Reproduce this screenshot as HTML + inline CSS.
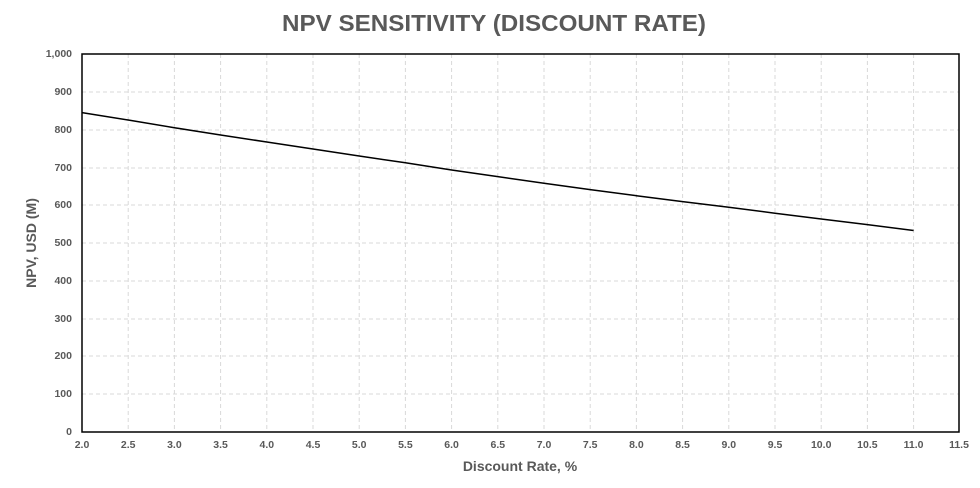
<!DOCTYPE html>
<html><head><meta charset="utf-8"><style>
body{margin:0;background:#fff;width:980px;height:483px;overflow:hidden}
text{font-family:"Liberation Sans",Arial,sans-serif;fill:#595959;font-weight:bold}
</style></head><body>
<svg width="980" height="483" xmlns="http://www.w3.org/2000/svg">
<text x="282" y="31" font-size="23" textLength="424" lengthAdjust="spacingAndGlyphs">NPV SENSITIVITY (DISCOUNT RATE)</text>
<g stroke="#d9d9d9" stroke-width="1" stroke-dasharray="4,3">
<line x1="82" x2="959" y1="92" y2="92"/><line x1="82" x2="959" y1="130" y2="130"/><line x1="82" x2="959" y1="168" y2="168"/><line x1="82" x2="959" y1="205" y2="205"/><line x1="82" x2="959" y1="243" y2="243"/><line x1="82" x2="959" y1="281" y2="281"/><line x1="82" x2="959" y1="319" y2="319"/><line x1="82" x2="959" y1="356" y2="356"/><line x1="82" x2="959" y1="394" y2="394"/>
<line y1="54" y2="432" x1="128.2" x2="128.2"/><line y1="54" y2="432" x1="174.4" x2="174.4"/><line y1="54" y2="432" x1="220.6" x2="220.6"/><line y1="54" y2="432" x1="266.8" x2="266.8"/><line y1="54" y2="432" x1="313" x2="313"/><line y1="54" y2="432" x1="359.2" x2="359.2"/><line y1="54" y2="432" x1="405.4" x2="405.4"/><line y1="54" y2="432" x1="451.6" x2="451.6"/><line y1="54" y2="432" x1="497.8" x2="497.8"/><line y1="54" y2="432" x1="544" x2="544"/><line y1="54" y2="432" x1="590.2" x2="590.2"/><line y1="54" y2="432" x1="636.4" x2="636.4"/><line y1="54" y2="432" x1="682.6" x2="682.6"/><line y1="54" y2="432" x1="728.8" x2="728.8"/><line y1="54" y2="432" x1="775" x2="775"/><line y1="54" y2="432" x1="821.2" x2="821.2"/><line y1="54" y2="432" x1="867.4" x2="867.4"/><line y1="54" y2="432" x1="913.6" x2="913.6"/>
</g>
<rect x="82" y="54" width="877" height="378" fill="none" stroke="#000" stroke-width="1.5"/>
<polyline fill="none" stroke="#000" stroke-width="1.5" points="82,112.6 128.2,120 174.4,127.7 220.6,135 266.8,142 313,149 359.2,156 405.4,162.8 451.6,170 497.8,176.6 544,183.3 590.2,189.6 636.4,195.7 682.6,201.6 728.8,207.2 775,213.2 821.2,219 867.4,224.6 913.6,230.5"/>
<g font-size="10.5" text-anchor="end">
<text x="72" y="57">1,000</text><text x="72" y="95">900</text><text x="72" y="133">800</text><text x="72" y="171">700</text><text x="72" y="208">600</text><text x="72" y="246">500</text><text x="72" y="284">400</text><text x="72" y="322">300</text><text x="72" y="359">200</text><text x="72" y="397">100</text><text x="72" y="435">0</text>
</g>
<g font-size="10.5" text-anchor="middle">
<text x="82" y="448">2.0</text><text x="128.2" y="448">2.5</text><text x="174.4" y="448">3.0</text><text x="220.6" y="448">3.5</text><text x="266.8" y="448">4.0</text><text x="313" y="448">4.5</text><text x="359.2" y="448">5.0</text><text x="405.4" y="448">5.5</text><text x="451.6" y="448">6.0</text><text x="497.8" y="448">6.5</text><text x="544" y="448">7.0</text><text x="590.2" y="448">7.5</text><text x="636.4" y="448">8.0</text><text x="682.6" y="448">8.5</text><text x="728.8" y="448">9.0</text><text x="775" y="448">9.5</text><text x="821.2" y="448">10.0</text><text x="867.4" y="448">10.5</text><text x="913.6" y="448">11.0</text><text x="959" y="448">11.5</text>
</g>
<text x="520" y="471" font-size="14" text-anchor="middle">Discount Rate, %</text>
<text transform="translate(36,243) rotate(-90)" font-size="14" text-anchor="middle">NPV, USD (M)</text>
</svg>
</body></html>
